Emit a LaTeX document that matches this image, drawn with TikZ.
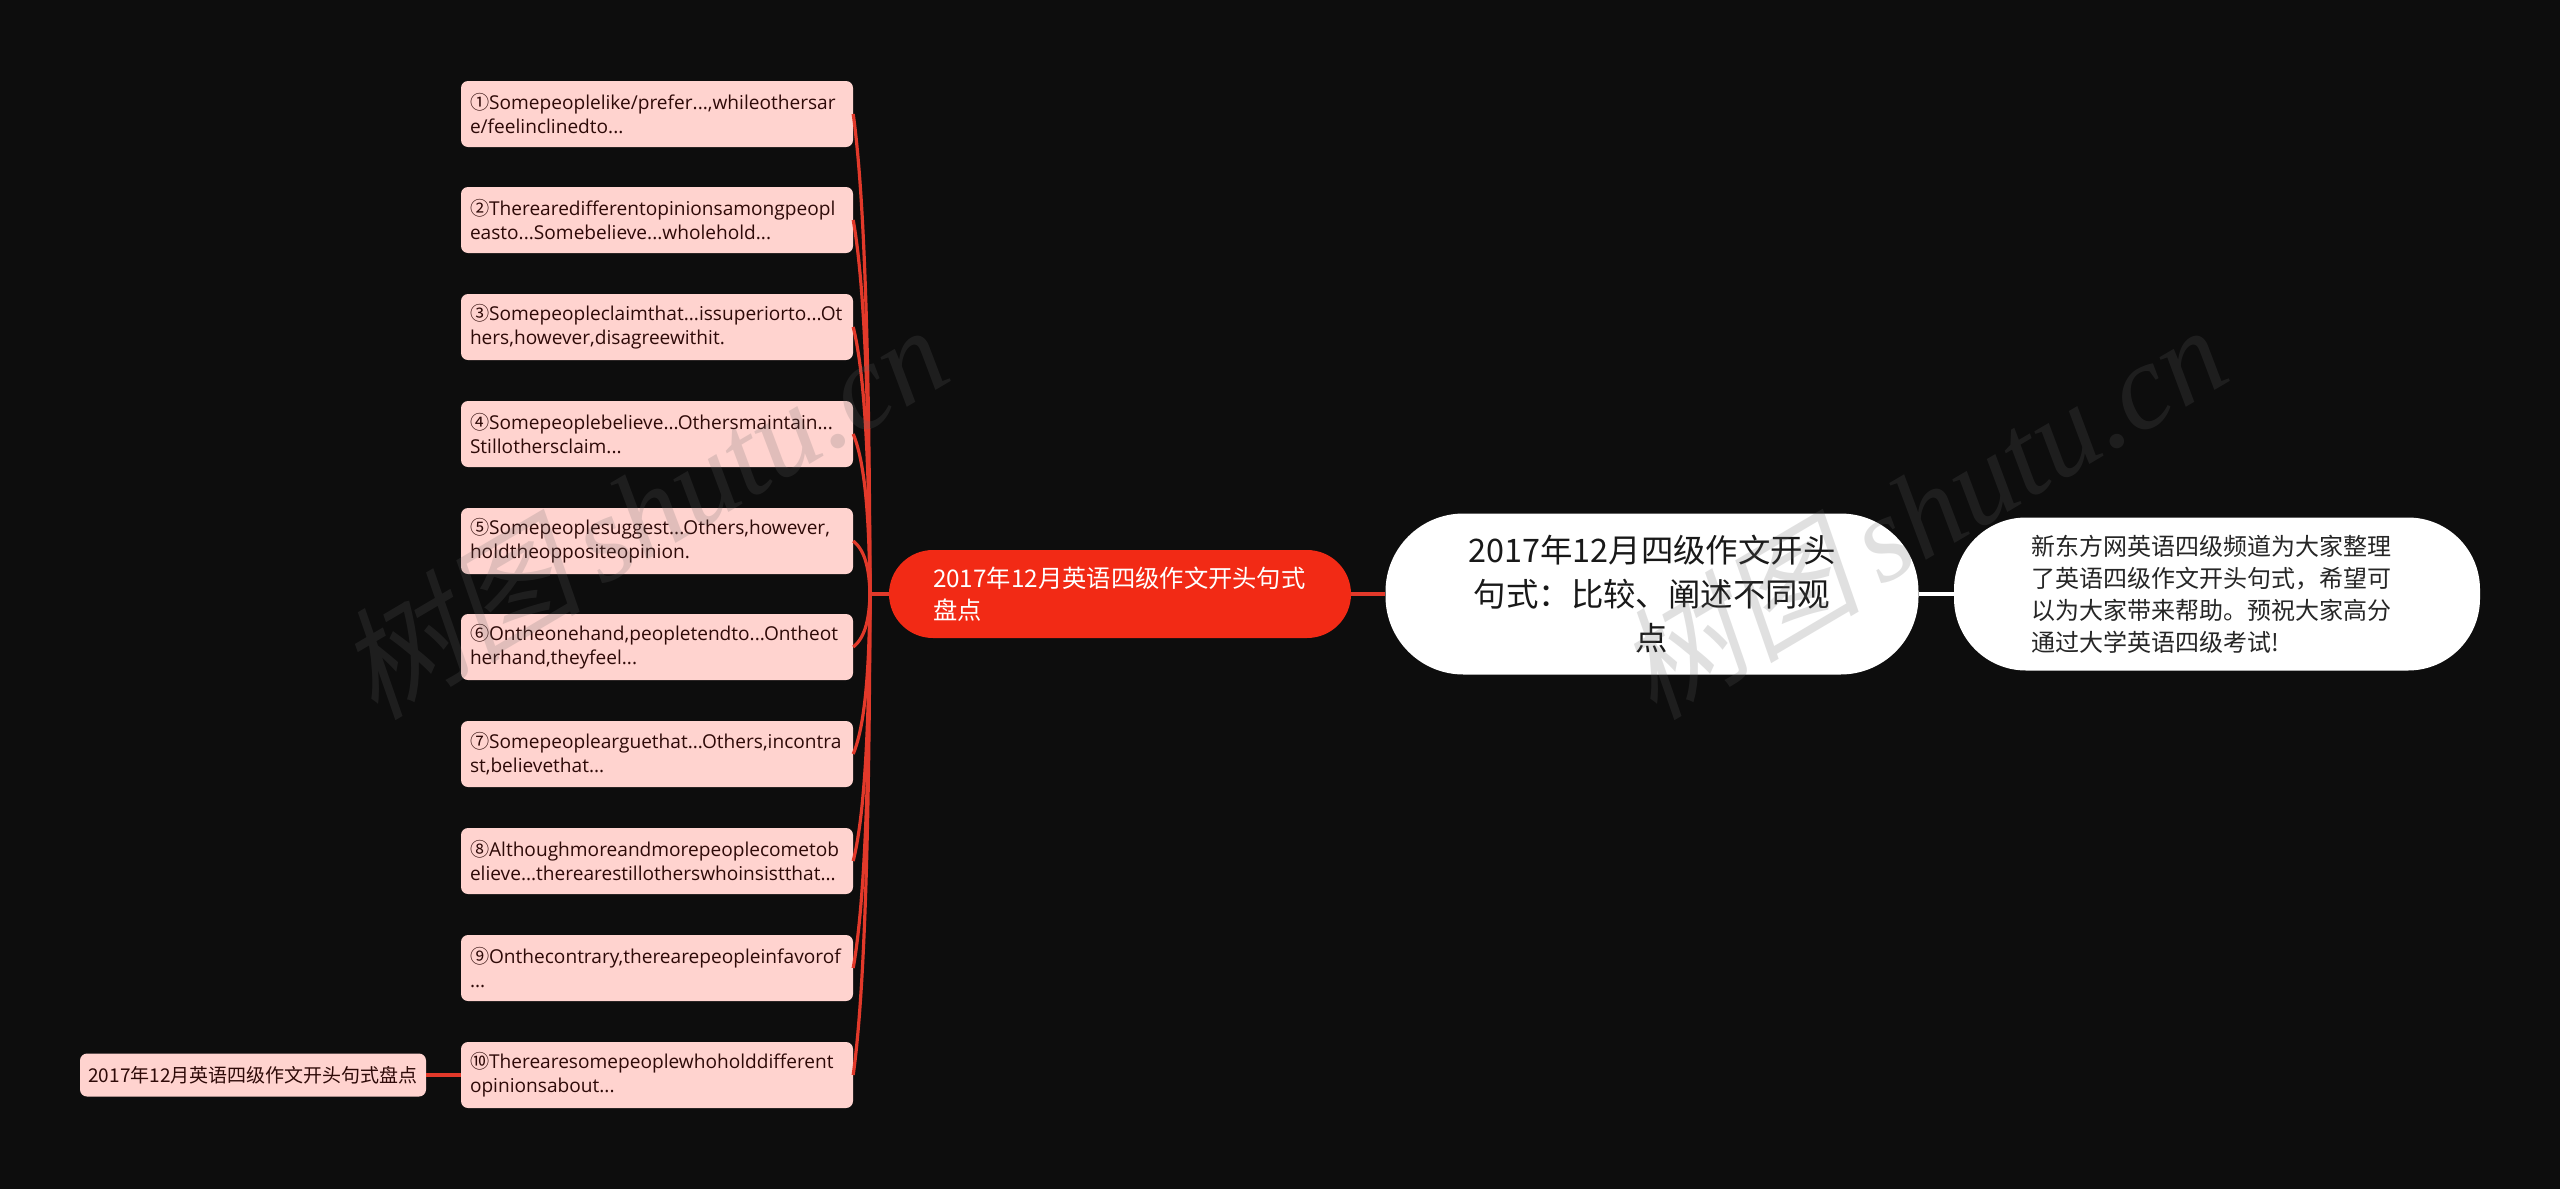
\documentclass[tikz,border=0pt]{standalone}
\usepackage{fontspec}
\setmainfont{Open Sans}
\newfontfamily\cjk{Noto Sans CJK SC}
\newfontfamily\markcjk[FakeSlant=0.2]{Noto Sans CJK SC}
\newfontfamily\markfont{Liberation Serif}
\usetikzlibrary{calc}
\definecolor{canvas}{HTML}{0D0D0D}
\definecolor{leafpink}{HTML}{FFD3CF}
\definecolor{leafink}{HTML}{2E0A08}
\definecolor{branchred}{HTML}{F22A15}
\definecolor{wirered}{HTML}{E2392A}
\begin{document}
\begin{tikzpicture}[x=1pt,y=-1pt,
  leaf/.style={fill=leafpink, text=leafink, rounded corners=7pt, minimum width=392pt, minimum height=66pt, text width=374pt, inner xsep=9pt, inner ysep=0pt, align=left, font=\fontsize{19.1}{24}\selectfont},
  tag/.style={fill=leafpink, text=leafink, rounded corners=7pt, minimum width=346pt, minimum height=43pt, inner sep=0pt, font=\cjk\fontsize{19}{24}\selectfont},
  branch/.style={fill=branchred, text=white, rounded corners=44pt, minimum width=462pt, minimum height=88pt, text width=374pt, inner sep=0pt, align=left, font=\cjk\fontsize{24.3}{32}\selectfont},
  root/.style={fill=white, text=black!90, rounded corners=78pt, minimum width=533pt, minimum height=161pt, text width=380pt, inner sep=0pt, align=center, font=\cjk\fontsize{32.4}{44}\selectfont},
  intro/.style={fill=white, text=black!85, rounded corners=72pt, minimum width=526pt, minimum height=153pt, text width=372pt, inner sep=0pt, align=left, font=\cjk\fontsize{24}{32}\selectfont},
  wire/.style={wirered, line width=3.2pt},
  stamp/.style={text=black!60, text opacity=0.2, rotate=30.5, inner sep=0pt}]
\useasboundingbox[fill=canvas] (0,0) rectangle (2560,1189);
\node[leaf] (L1) at (657,114) {{\cjk ①}Somepeoplelike/prefer...,whileothersar\\e/feelinclinedto...};
\node[leaf] (L2) at (657,220) {{\cjk ②}Therearedifferentopinionsamongpeopl\\easto...Somebelieve...wholehold...};
\node[leaf] (L3) at (657,327) {{\cjk ③}Somepeopleclaimthat...issuperiorto...Ot\\hers,however,disagreewithit.};
\node[leaf] (L4) at (657,434) {{\cjk ④}Somepeoplebelieve...Othersmaintain...\\Stillothersclaim...};
\node[leaf] (L5) at (657,541) {{\cjk ⑤}Somepeoplesuggest...Others,however,\\holdtheoppositeopinion.};
\node[leaf] (L6) at (657,647) {{\cjk ⑥}Ontheonehand,peopletendto...Ontheot\\herhand,theyfeel...};
\node[leaf] (L7) at (657,754) {{\cjk ⑦}Somepeoplearguethat...Others,incontra\\st,believethat...};
\node[leaf] (L8) at (657,861) {{\cjk ⑧}Althoughmoreandmorepeoplecometob\\elieve...therearestillotherswhoinsistthat...};
\node[leaf] (L9) at (657,968) {{\cjk ⑨}Onthecontrary,therearepeopleinfavorof\\...};
\node[leaf] (L10) at (657,1075) {{\cjk ⑩}Therearesomepeoplewhoholddifferent\\opinionsabout...};
\node[tag] (Tag) at (253,1075) {2017年12月英语四级作文开头句式盘点};
\node[branch] (Branch) at (1120,594) {2017年12月英语四级作文开头句式\\盘点};
\node[root] (Root) at (1652,594) {2017年12月四级作文开头\\句式：比较、阐述不同观\\点};
\node[intro] (Intro) at (2217,594) {新东方网英语四级频道为大家整理\\了英语四级作文开头句式，希望可\\以为大家带来帮助。预祝大家高分\\通过大学英语四级考试!};
\coordinate (Trunk) at (870,594);
\foreach \i in {1,...,10}
  \draw[wire] (L\i.east) .. controls ($(L\i.east)!0.2!(Trunk)+(10,0)$) and ($(L\i.east)!0.6!(Trunk)+(6,0)$) .. (Trunk);
\draw[wire] (Trunk) -- (Branch);
\draw[wire] (Branch) -- (Root);
\draw[white, line width=3.5pt] (Root) -- (Intro);
\draw[wire] (Tag) -- (L10);
\node[stamp] (Mark1) at (642,510) {\markcjk\fontsize{122}{122}\selectfont 树图\,\markfont\itshape shutu.cn};
\node[stamp] (Mark2) at (1921,510) {\markcjk\fontsize{122}{122}\selectfont 树图\,\markfont\itshape shutu.cn};
\end{tikzpicture}
\end{document}
